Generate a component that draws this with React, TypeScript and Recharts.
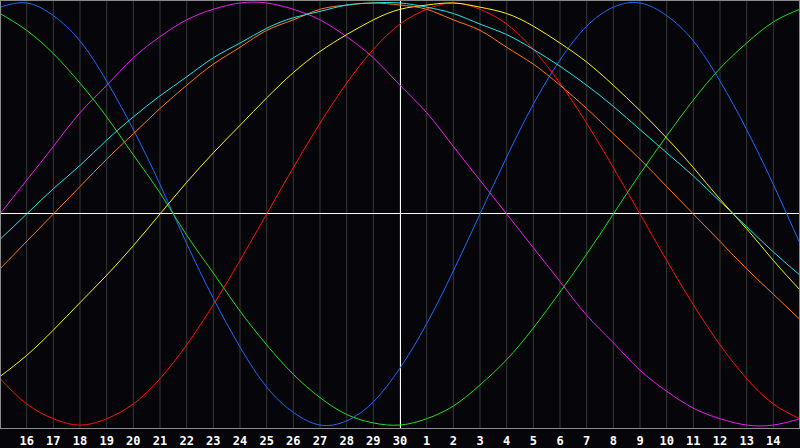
import React from 'react';
import { LineChart, Line, XAxis, YAxis, CartesianGrid, ReferenceLine } from 'recharts';

// day labels, index 0 = 15th of previous month, 30 = 15th of this month
const dayLabels = [
  '15', '16', '17', '18', '19', '20', '21', '22', '23', '24', '25', '26', '27', '28', '29', '30',
  '1', '2', '3', '4', '5', '6', '7', '8', '9', '10', '11', '12', '13', '14', '15',
];
const tickIdx = [1, 2, 3, 4, 5, 6, 7, 8, 9, 10, 11, 12, 13, 14, 15, 16, 17, 18, 19, 20, 21, 22, 23, 24, 25, 26, 27, 28, 29];

const physical = [98, 100, 94, 82, 63, 40, 14, -14, -40, -63, -82, -94, -100, -98, -89, -73, -52, -27, 0, 27, 52, 73, 89, 98, 100, 94, 82, 63, 40, 14, -14];
const emotional = [-78, -90, -97, -100, -97, -90, -78, -62, -43, -22, 0, 22, 43, 62, 78, 90, 97, 100, 97, 90, 78, 62, 43, 22, 0, -22, -43, -62, -78, -90, -97];
const intellectual = [95, 87, 76, 62, 46, 28, 10, -10, -28, -46, -62, -76, -87, -95, -99, -100, -97, -91, -81, -69, -54, -37, -19, 0, 19, 37, 54, 69, 81, 91, 97];
const intuitive = [0, 16, 32, 48, 61, 74, 84, 92, 97, 100, 100, 97, 92, 84, 74, 61, 48, 32, 16, 0, -16, -32, -48, -61, -74, -84, -92, -97, -100, -100, -97];
const aesthetic = [-77, -67, -55, -42, -29, -15, 0, 15, 29, 42, 55, 67, 77, 85, 92, 97, 99, 100, 98, 95, 89, 81, 72, 61, 49, 36, 22, 7, -7, -22, -36];
const awareness = [-26, -13, 0, 13, 26, 38, 50, 61, 71, 79, 87, 92, 97, 99, 100, 99, 97, 92, 87, 79, 71, 61, 50, 38, 26, 13, 0, -13, -26, -38, -50];
const spiritual = [-12, 0, 12, 23, 35, 46, 56, 65, 74, 81, 88, 93, 96, 99, 100, 100, 98, 95, 90, 85, 78, 70, 61, 51, 40, 29, 18, 6, -6, -18, -29];

const series = [
  { key: 'physical', color: '#1e6bff' },
  { key: 'emotional', color: '#ff1010' },
  { key: 'intellectual', color: '#22e022' },
  { key: 'intuitive', color: '#f01cf0' },
  { key: 'aesthetic', color: '#f5f51c' },
  { key: 'awareness', color: '#ff7a14' },
  { key: 'spiritual', color: '#22e6e6' },
];

const data = dayLabels.map((_, k) => ({
  k,
  physical: physical[k],
  emotional: emotional[k],
  intellectual: intellectual[k],
  intuitive: intuitive[k],
  aesthetic: aesthetic[k],
  awareness: awareness[k],
  spiritual: spiritual[k],
}));

export default function App() {
  return (
    <div style={{ position: 'absolute', left: 0, top: 0, width: 800, height: 448, background: '#060509' }}>
      <LineChart width={800} height={448} data={data} margin={{ top: 0, right: 0, bottom: 0, left: 0 }}>
        <CartesianGrid horizontal={false} stroke="#3a3a3a" />
        <XAxis
          type="number"
          dataKey="k"
          domain={[0, 30]}
          ticks={tickIdx}
          interval={0}
          height={20}
          axisLine={false}
          tickLine={false}
          tickFormatter={(v: number) => dayLabels[v]}
          tick={{ fill: '#ffffff', fontSize: 12, fontWeight: 'bold', fontFamily: 'DejaVu Sans Mono' }}
        />
        <YAxis hide domain={[-101.4, 101.4]} allowDataOverflow />
        <ReferenceLine y={0.2} stroke="#ffffff" strokeWidth={1} shapeRendering="crispEdges" />
        <ReferenceLine x={15} stroke="#ffffff" strokeWidth={1} shapeRendering="crispEdges" />
        {series.map((s) => (
          <Line
            key={s.key}
            type="natural"
            dataKey={s.key}
            stroke={s.color}
            strokeWidth={1}
            dot={false}
            activeDot={false}
            isAnimationActive={false}
          />
        ))}
      </LineChart>
      <div
        style={{
          position: 'absolute',
          left: 0,
          top: 0,
          width: 800,
          height: 429,
          boxSizing: 'border-box',
          border: '1px solid #8a8a8a',
          pointerEvents: 'none',
        }}
      />
    </div>
  );
}
